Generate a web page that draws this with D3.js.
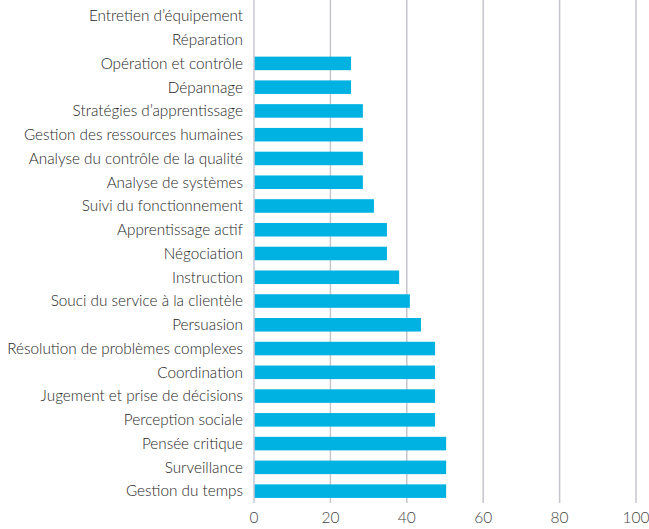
<!DOCTYPE html>
<meta charset="utf-8">
<head>
  <title>Compétences</title>
  <style>
    body { margin: 0; background: #fff; }
    text { font-family: Lato, "Open Sans", sans-serif; font-weight: 300; }
  </style>
</head>
<body>
<script src="https://d3js.org/d3.v7.min.js"></script>
<script>
var WIDTH = 649,
    HEIGHT = 529;

// categories top to bottom
var skills = [
  "Entretien d\u2019équipement",
  "Réparation",
  "Opération et contrôle",
  "Dépannage",
  "Stratégies d\u2019apprentissage",
  "Gestion des ressources humaines",
  "Analyse du contrôle de la qualité",
  "Analyse de systèmes",
  "Suivi du fonctionnement",
  "Apprentissage actif",
  "Négociation",
  "Instruction",
  "Souci du service à la clientèle",
  "Persuasion",
  "Résolution de problèmes complexes",
  "Coordination",
  "Jugement et prise de décisions",
  "Perception sociale",
  "Pensée critique",
  "Surveillance",
  "Gestion du temps"
];

var values = [0, 0, 25.4, 25.4, 28.5, 28.5, 28.5, 28.5, 31.4, 34.8, 34.8, 38, 40.8, 43.7,
              47.4, 47.4, 47.4, 47.4, 50.3, 50.3, 50.3];

var ticks = [0, 20, 40, 60, 80, 100];

var x = d3.scaleLinear().domain([0, 100]).range([254, 636]);
var y = d3.scaleBand().domain(skills).range([4, 503]).paddingInner(0.43).paddingOuter(0.215);

var svg = d3.select("body").append("svg")
    .attr("width", WIDTH)
    .attr("height", HEIGHT);

// vertical gridlines
svg.selectAll("line.grid")
    .data(ticks.slice(1))
  .enter().append("line")
    .attr("class", "grid")
    .attr("x1", function(d) { return x(d); })
    .attr("x2", function(d) { return x(d); })
    .attr("y1", 0)
    .attr("y2", 503)
    .attr("stroke", "#c5c7cc")
    .attr("stroke-width", 1.5);

svg.selectAll("rect.bar")
    .data(values)
  .enter().append("rect")
    .attr("class", "bar")
    .attr("x", x(0))
    .attr("y", function(d, i) { return y(skills[i]); })
    .attr("width", function(d) { return x(d) - x(0); })
    .attr("height", y.bandwidth())
    .attr("fill", "#00b2e2");

// zero axis line
svg.append("line")
    .attr("x1", x(0)).attr("x2", x(0))
    .attr("y1", 0).attr("y2", 503)
    .attr("stroke", "#c9c9d6")
    .attr("stroke-width", 1.5);

// category labels
svg.selectAll("text.cat")
    .data(skills)
  .enter().append("text")
    .attr("class", "cat")
    .attr("x", 243)
    .attr("y", function(d) { return y(d) + y.bandwidth() / 2; })
    .attr("dy", "0.35em")
    .attr("text-anchor", "end")
    .attr("font-size", 15.3)
    .attr("fill", "#262626")
    .text(function(d) { return d; });

// x tick labels
svg.selectAll("text.tick")
    .data(ticks)
  .enter().append("text")
    .attr("class", "tick")
    .attr("x", function(d) { return x(d); })
    .attr("y", 523)
    .attr("text-anchor", "middle")
    .attr("font-size", 15.5)
    .attr("fill", "#444")
    .text(function(d) { return d; });
</script>
